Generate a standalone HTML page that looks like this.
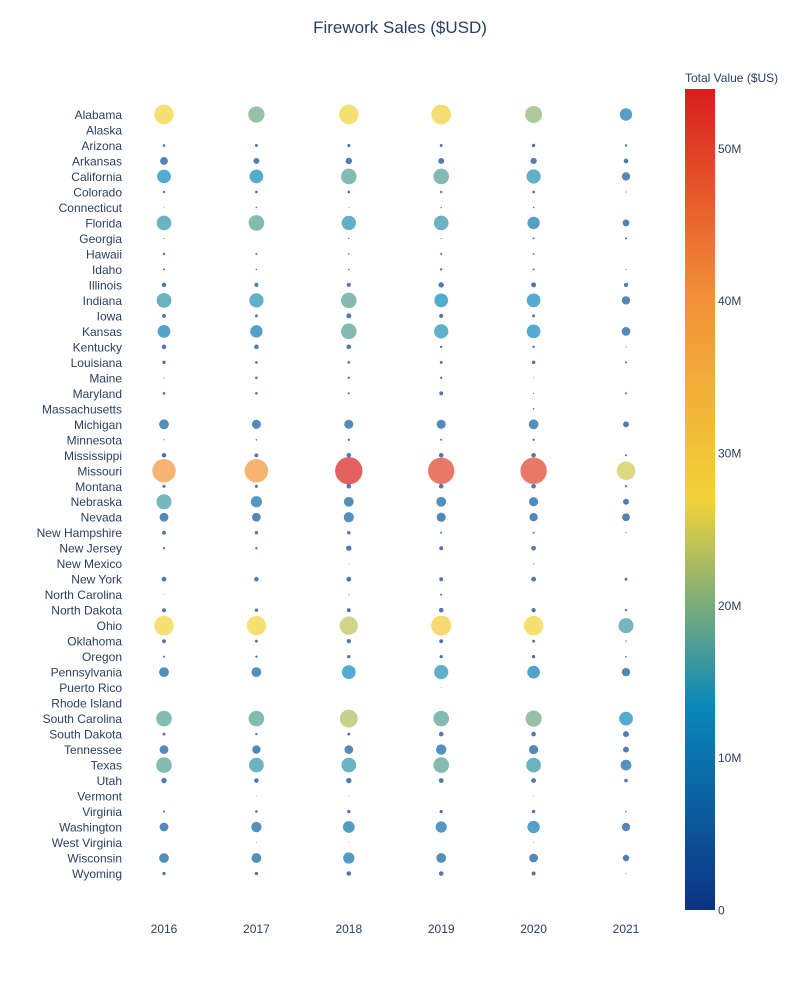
<!DOCTYPE html>
<html><head><meta charset="utf-8"><style>
body{margin:0;background:#fff;}
svg{display:block;font-family:"Liberation Sans",Arial,sans-serif;}
</style></head><body>
<svg id="chart" width="800" height="1000" viewBox="0 0 800 1000" xmlns="http://www.w3.org/2000/svg">
<defs>
<linearGradient id="cbg" x1="0" y1="1" x2="0" y2="0">
<stop offset="0" stop-color="#0c3383"/><stop offset="0.25" stop-color="#0a88ba"/><stop offset="0.5" stop-color="#f2d338"/><stop offset="0.75" stop-color="#f28f38"/><stop offset="1" stop-color="#d91e1e"/>
</linearGradient>
</defs>
<text x="400" y="33" text-anchor="middle" font-size="17" fill="#2a3f5f">Firework Sales ($USD)</text>
<g id="ylabels"></g>
<g id="xlabels"></g>
<g id="marks"></g>
<text x="685" y="82" font-size="12" fill="#2a3f5f">Total Value ($US)</text>
<rect x="685" y="89" width="30" height="821" fill="url(#cbg)"/>
<g id="cbticks"></g>
</svg>
<script>
const states=["Alabama","Alaska","Arizona","Arkansas","California","Colorado","Connecticut","Florida","Georgia","Hawaii","Idaho","Illinois","Indiana","Iowa","Kansas","Kentucky","Louisiana","Maine","Maryland","Massachusetts","Michigan","Minnesota","Mississippi","Missouri","Montana","Nebraska","Nevada","New Hampshire","New Jersey","New Mexico","New York","North Carolina","North Dakota","Ohio","Oklahoma","Oregon","Pennsylvania","Puerto Rico","Rhode Island","South Carolina","South Dakota","Tennessee","Texas","Utah","Vermont","Virginia","Washington","West Virginia","Wisconsin","Wyoming"];
const years=["2016","2017","2018","2019","2020","2021"];
const colorbarTicks=[0,10,20,30,40,50];
// values in $M, one array per year
const v2016=[27,0,0.5,4.4,13.5,0.4,0.05,15.5,0.1,0.4,0.3,1.5,15.5,1.1,11.6,1.5,0.8,0.1,0.5,0,6.9,0.1,1.5,39.5,0.7,16.3,5.5,1.1,0.4,0,1.7,0.05,1.1,27.4,1.1,0.3,6.9,0,0,17.5,0.6,5.5,17.5,2.1,0,0.3,5.5,0,6.9,0.8];
const v2017=[19,0,0.6,2.5,13.5,0.5,0.2,17.5,0,0.3,0.2,1.2,14.6,0.6,11,1.5,0.5,0.5,0.5,0,6,0.2,1.1,39.5,0.7,9,5.5,0.8,0.4,0,1.5,0,0.8,27,0.6,0.4,6.9,0,0,17.5,0.4,5,15.5,1.5,0.05,0.5,7.7,0.05,6.9,0.8];
const v2018=[27,0,0.7,3,17.5,0.5,0.05,14.6,0.15,0.2,0.2,1.2,17.5,1.7,17.5,1.5,0.5,0.4,0.3,0,6,0.4,1.5,53.9,1.5,6.9,7.4,0.9,2.1,0.05,1.7,0.1,1.1,24,1.3,0.8,13.5,0,0,23,0.6,5.5,15.5,2.1,0.05,0.8,9.9,0.05,9.2,1.5];
const v2019=[28,0,0.6,2.5,17.5,0.4,0.15,15.5,0.1,0.3,0.4,2.1,13.5,1.2,14.6,0.4,0.6,0.4,1.1,0,6,0.3,1.5,50,1.5,6.9,6,0.3,1.1,0,1.1,0.3,1.5,29,1.1,0.8,14.5,0.05,0,17.5,1.5,7.7,17.5,1.7,0,0.8,9,0,6.9,1.5];
const v2020=[21,0,0.8,2.8,14.5,0.5,0.2,11,0.3,0.25,0.3,1.8,13.5,0.6,13.5,0.4,0.9,0.05,0.1,0.2,6.9,0.4,1.5,50,1.5,6,5,0.3,1.6,0.1,1.7,0,1.3,27.4,0.6,0.8,11.6,0,0,19,1.5,6,15.5,1.7,0.05,0.8,11,0.05,5.5,1.1];
const v2021=[11,0,0.4,1.5,5,0.1,0,3.4,0.3,0,0.1,1.3,5,0,5.5,0.1,0.3,0,0.3,0,2.5,0,0.3,24.8,0.4,2.5,4.4,0.1,0,0,0.6,0,0.4,16.3,0.15,0.2,5,0,0,13.5,2.5,2.5,8.3,0.9,0,0.2,5,0,3,0.07];
const series=[v2016,v2017,v2018,v2019,v2020,v2021];

const NS="http://www.w3.org/2000/svg";
const allv=series.flat();
const cmax=Math.max(...allv);
const x=i=>164+i*92.4;
const y=j=>114.5+j*(873.5-114.5)/(states.length-1);
const cy=v=>910-v/cmax*821;
const r=v=>13.7*Math.sqrt(v/cmax);
const stops=[[0,[12,51,131]],[0.25,[10,136,186]],[0.5,[242,211,56]],[0.75,[242,143,56]],[1,[217,30,30]]];
function color(v){const t=Math.max(0,Math.min(1,v/cmax));for(let k=1;k<stops.length;k++){if(t<=stops[k][0]){const a=stops[k-1],b=stops[k];const f=(t-a[0])/(b[0]-a[0]);const c=a[1].map((q,i)=>Math.round(q+(b[1][i]-q)*f));return `rgb(${c.join(",")})`;}}return "rgb(217,30,30)";}
function mk(tag,attrs,parent,txt){const e=document.createElementNS(NS,tag);for(const k in attrs)e.setAttribute(k,attrs[k]);if(txt!==undefined)e.textContent=txt;parent.appendChild(e);return e;}
const yl=document.getElementById("ylabels"),xl=document.getElementById("xlabels"),mg=document.getElementById("marks"),cb=document.getElementById("cbticks");
states.forEach((s,j)=>{const t=mk("text",{x:122,y:y(j)+4.5,"text-anchor":"end","font-size":12,fill:"#2a3f5f"},yl,s);

});
years.forEach((yr,i)=>{const t=mk("text",{x:x(i),y:933,"text-anchor":"middle","font-size":12,fill:"#2a3f5f"},xl,yr);

});
series.forEach((arr,i)=>{arr.forEach((v,j)=>{if(v<=0)return;const c=mk("circle",{cx:x(i),cy:y(j),r:r(v),fill:color(v),"fill-opacity":0.7},mg);

});});
colorbarTicks.forEach(v=>{const t=mk("text",{x:718,y:cy(v)+4.5,"font-size":12,fill:"#2a3f5f"},cb,v===0?"0":v+"M");

});
</script>
</body></html>
